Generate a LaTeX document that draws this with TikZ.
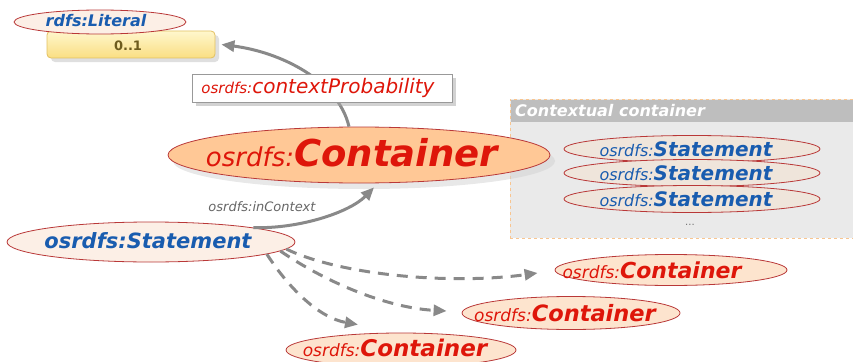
\documentclass[tikz,border=0pt]{standalone}
\usepackage{fontspec}
\setmainfont{DejaVu Sans}
\usetikzlibrary{shapes.geometric,shadows,arrows.meta}
\definecolor{txtred}{RGB}{222,22,10}
\definecolor{txtblue}{RGB}{25,92,175}
\definecolor{ellB}{RGB}{185,56,56}
\definecolor{bigF}{RGB}{255,200,150}
\definecolor{conF}{RGB}{253,228,206}
\definecolor{stF}{RGB}{252,239,230}
\definecolor{inF}{RGB}{239,229,219}
\definecolor{arrG}{RGB}{137,137,137}
\definecolor{ctxBg}{RGB}{234,234,234}
\definecolor{ctxHd}{RGB}{190,190,190}
\definecolor{ctxBd}{RGB}{248,197,144}
\definecolor{boxTop}{RGB}{255,247,205}
\definecolor{boxBot}{RGB}{250,222,130}
\definecolor{boxBd}{RGB}{226,192,96}
\definecolor{oneTxt}{RGB}{110,92,30}
\newcommand{\fs}[1]{\fontsize{#1}{#1}\selectfont}
\newcommand{\stmtlbl}{{\fs{16}\itshape\color{txtblue}osrdfs:}{\fs{20}\bfseries\itshape\color{txtblue}Statement}}
\begin{document}
\begin{tikzpicture}[x=1pt,y=-1pt,
  ell/.style={ellipse, draw=ellB, line width=0.8pt, inner sep=0pt},
  conell/.style={ell, fill=conF},
  inell/.style={ell, fill=inF, minimum width=256pt, minimum height=27pt},
  lbl/.style={inner sep=0pt},
  arr/.style={draw=arrG, line width=3pt, -{Triangle[length=13pt,width=11pt]}},
  darr/.style={arr, dash pattern=on 11pt off 8pt},
]
\useasboundingbox (0,0) rectangle (853,361);

% Contextual container
\node (ctx) [rectangle, fill=ctxBg, draw=ctxBd, dashed, line width=0.8pt, minimum width=345pt, minimum height=139pt, inner sep=0pt] at (682.5,168.5) {};
\node (ctxh) [rectangle, fill=ctxHd, minimum width=342pt, minimum height=22pt, inner sep=0pt] at (682,111) {};
\node (ctxt) [anchor=west, inner sep=0pt, text=white, font=\fs{16}\bfseries\itshape] at (515,111) {Contextual container};

\node (s1) [inell] at (692,149) {};
\node (s1t) [lbl] at (686,149) {\stmtlbl};
\node (s2) [inell] at (692,173) {};
\node (s2t) [lbl] at (686,173) {\stmtlbl};
\node (s3) [inell] at (692,199) {};
\node (s3t) [lbl] at (686,199) {\stmtlbl};
\node (dots) [text=black!55, font=\fs{10}] at (690,225) {...};

% 0..1 box and Literal
\node (box) [rectangle, rounded corners=4pt, draw=boxBd, line width=0.8pt, top color=boxTop, bottom color=boxBot, minimum width=168pt, minimum height=27pt, inner sep=0pt, drop shadow={shadow xshift=4pt, shadow yshift=-4pt, fill=black!25}] at (131,44.5) {};
\node (one) [lbl, text=oneTxt, font=\fs{13}\bfseries] at (128,46) {0..1};
\node (lit) [ell, fill=stF, minimum width=172pt, minimum height=24pt] at (100,22) {};
\node (litt) [lbl, font=\fs{16}\bfseries\itshape, text=txtblue] at (96,21) {rdfs:Literal};

% big Container
\node (big) [ell, fill=bigF, minimum width=382pt, minimum height=56pt, drop shadow={shadow xshift=5pt, shadow yshift=-6pt, fill=black!18}] at (359,155) {};
\node (bigt) [lbl] at (352,153) {{\fs{26}\itshape\color{txtred}osrdfs:}{\fs{37}\bfseries\itshape\color{txtred}Container}};

% Statement
\node (stmt) [ell, fill=stF, minimum width=288pt, minimum height=40pt] at (151,242) {};
\node (stmtt) [lbl, font=\fs{21}\bfseries\itshape, text=txtblue] at (148,241) {osrdfs:Statement};

% lower containers
\node (c1) [conell, minimum width=232pt, minimum height=31pt] at (671,270) {};
\node (c1t) [lbl] at (652,270) {{\fs{17}\itshape\color{txtred}osrdfs:}{\fs{22}\bfseries\itshape\color{txtred}Container}};
\node (c2) [conell, minimum width=218pt, minimum height=33pt] at (571,313) {};
\node (c2t) [lbl] at (565,313) {{\fs{17}\itshape\color{txtred}osrdfs:}{\fs{22.5}\bfseries\itshape\color{txtred}Container}};
\node (c3) [conell, minimum width=230pt, minimum height=34pt] at (401,350) {};
\node (c3t) [lbl] at (395,348) {{\fs{17}\itshape\color{txtred}osrdfs:}{\fs{23}\bfseries\itshape\color{txtred}Container}};

% arrows
\draw[arr] ([xshift=-10pt]big.north) .. controls (338,80) and (280,52) .. ([xshift=6pt]box.east);
\draw[arr] (stmt.8) .. controls (300,229) and (350,212) .. ([xshift=15pt,yshift=-4pt]big.south);
\node (inctx) [text=black!60, font=\fs{13}\itshape] at (262,207) {osrdfs:inContext};

\draw[darr] (stmt.-3) .. controls (340,275) and (450,285) .. ([xshift=-17pt,yshift=-3pt]c1.west);
\draw[darr] (stmt.-4) .. controls (330,285) and (390,308) .. ([xshift=-15pt,yshift=2pt]c2.west);
\draw[darr] (stmt.-6) .. controls (290,290) and (320,318) .. ([xshift=-43pt,yshift=8pt]c3.north);

% label box
\node (cp) [rectangle, draw=black!40, fill=white, line width=0.8pt, minimum width=260pt, minimum height=28pt, inner sep=0pt, drop shadow={shadow xshift=4pt, shadow yshift=-4pt, fill=black!35}] at (322,88) {};
\node (cpt) [lbl] at (318,88) {{\fs{15}\itshape\color{txtred}osrdfs:}{\fs{20}\itshape\color{txtred}contextProbability}};
\end{tikzpicture}
\end{document}
